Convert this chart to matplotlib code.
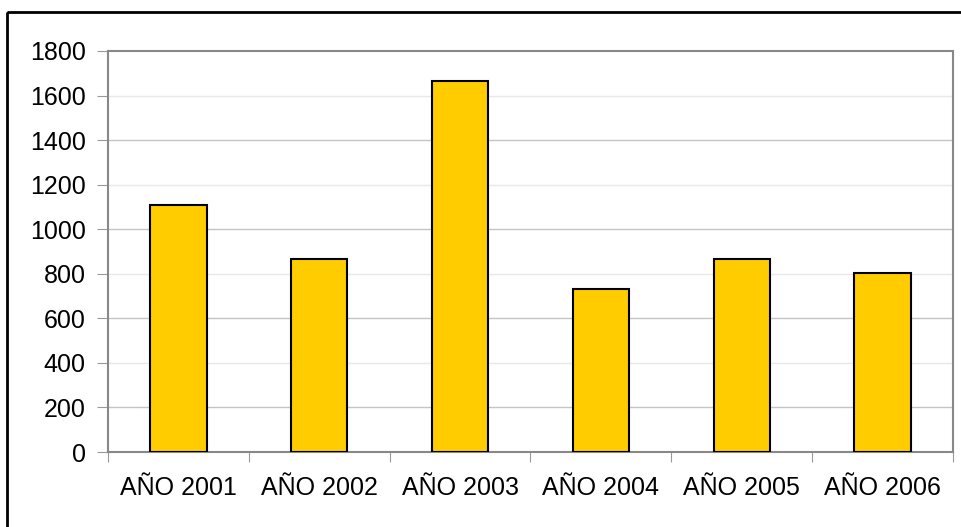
import matplotlib.pyplot as plt
from matplotlib.patches import Rectangle
from matplotlib.ticker import MultipleLocator

# datos
anios = ['AÑO 2001', 'AÑO 2002', 'AÑO 2003', 'AÑO 2004', 'AÑO 2005', 'AÑO 2006']
valores = [1110, 865, 1665, 730, 865, 805]

plt.rcParams['font.family'] = ['Liberation Sans', 'DejaVu Sans']

fig = plt.figure(figsize=(9.62, 5.27), dpi=100)
ax = fig.add_axes([108 / 962, 1 - 452 / 527, (953 - 108) / 962, (452 - 51) / 527])

# marco exterior negro
fig.patches.append(Rectangle((7 / 962, 1 - 12 / 527), 1.1, -1.1, transform=fig.transFigure,
                             fill=False, edgecolor='black', linewidth=2, zorder=10))

x = range(len(anios))
ax.bar(x, valores, width=0.4, color='#FFCC00', edgecolor='black', linewidth=1.5, zorder=3)

ax.set_xlim(-0.5, len(anios) - 0.5)
ax.set_ylim(0, 1800)
ax.yaxis.set_major_locator(MultipleLocator(200))

# lineas de cuadricula alternadas
for i, v in enumerate(range(200, 1800, 200)):
    ax.axhline(v, color='#c4c4c4' if i % 2 == 0 else '#e8e8e8', linewidth=1, zorder=1)

ax.set_xticks([i + 0.5 for i in range(-1, len(anios))], minor=False)
ax.set_xticklabels([])
ax.set_xticks(list(x), minor=True)
ax.set_xticklabels(anios, minor=True)
ax.tick_params(axis='x', which='major', length=7, color='#999999')
ax.tick_params(axis='x', which='minor', length=0, pad=17, labelsize=18)
ax.tick_params(axis='y', length=8, color='#999999', pad=8, labelsize=18)

for s in ax.spines.values():
    s.set_color('#888888')
    s.set_linewidth(1.5)

fig.savefig('out.png', dpi=100)
